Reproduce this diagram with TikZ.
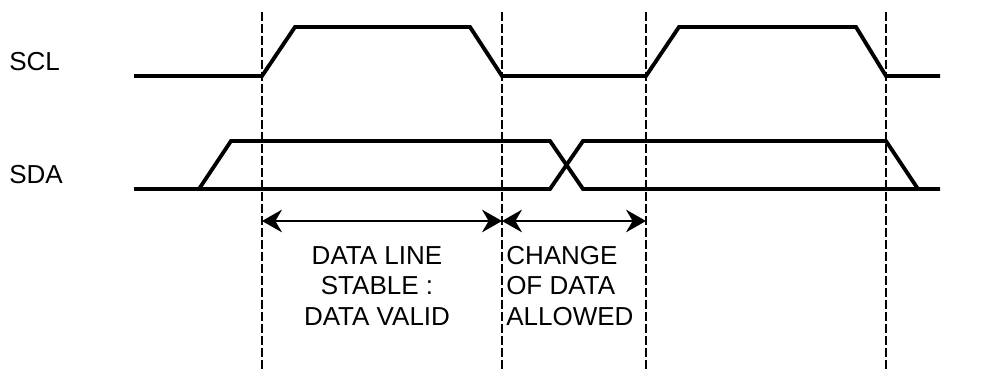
\documentclass[tikz,border=0pt]{standalone}
\usepackage{fontspec}
\setmainfont{Liberation Sans}
\usetikzlibrary{arrows.meta,positioning}

\begin{document}
\begin{tikzpicture}[
  x=0.75pt, y=-0.75pt,
  signal/.style={line width=2.9pt, line join=miter},
  guide/.style={line width=1.05pt, dash pattern=on 6.75pt off 2.25pt},
  span/.style={{Stealth[length=15pt,width=17pt,inset=5pt]}-{Stealth[length=15pt,width=17pt,inset=5pt]},
               line width=1.1pt},
  lbl/.style={font=\fontsize{19.5}{23}\selectfont, inner sep=0pt}
]
  \useasboundingbox (0,0) rectangle (1008,370);
  \foreach \t [count=\i] in {262,502,646,886} {
    \coordinate (g\i) at (\t,12);
    \coordinate (s\i) at (\t,221);
    \draw[guide] (g\i) -- (\t,370);
  }
  \node[lbl, anchor=base west] (scl) at (9,71) {SCL};
  \node[lbl, anchor=base west] (sda) at (9,184) {SDA};
  \draw[signal] (134,76) -- (262,76) -- (295,27) -- (470,27) -- (502,76) -- (646,76)
    -- (679,27) -- (856,27) -- (886,76) -- (940,76);
  \draw[signal] (134,189) -- (550,189) -- (583,141) -- (886,141) -- (918,189) -- (940,189);
  \draw[signal] (199,189) -- (231,141) -- (550,141) -- (583,189) -- (918,189);
  \draw[span] (s1) -- (s2);
  \draw[span] (s2) -- (s3);
  \node[lbl, align=center] (stable) at (377,286) {DATA LINE\\STABLE :\\DATA VALID};
  \node[lbl, align=left, anchor=west] (change) at (506,286) {CHANGE\\OF DATA\\ALLOWED};
\end{tikzpicture}
\end{document}
